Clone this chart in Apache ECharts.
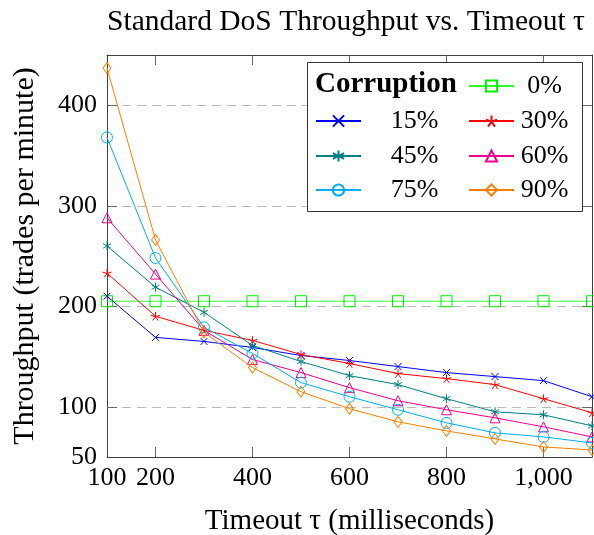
<!DOCTYPE html>
<html><head><meta charset="utf-8">
<script src="https://cdn.jsdelivr.net/npm/echarts@6/dist/echarts.min.js"></script>
<style>html,body{margin:0;padding:0;background:#fff}#c{width:594px;height:535px}</style>
</head><body><div id="c"></div>
<script>
const timeouts = [100, 200, 300, 400, 500, 600, 700, 800, 900, 1000, 1100];
const corruption0  = [205, 205, 205, 205, 205, 205, 205, 205, 205, 205, 205];
const corruption15 = [210, 169, 165, 159, 151, 146, 140, 134, 130, 126, 110];
const corruption30 = [233, 190, 176, 166, 152, 143, 133, 128, 122, 108, 94];
const corruption45 = [260, 219, 194, 161, 145, 131, 122, 108, 95, 92, 81];
const corruption60 = [288, 232, 176, 147, 134, 119, 106, 97, 89, 80, 70];
const corruption75 = [368, 248, 179, 153, 124, 110, 97, 84, 74, 70, 64];
const corruption90 = [437, 266, 174, 139, 115, 98, 85, 76, 68, 60, 57];
const seriesNames = ['0%', '15%', '30%', '45%', '60%', '75%', '90%'];
const xLabelValues = [100, 200, 400, 600, 800, 1000];
const xTickValues = [200, 400, 600, 800, 1000];
const yLabelValues = [50, 100, 200, 300, 400];
const yTickValues = [100, 200, 300, 400];

const FONT = '"Liberation Serif", "Times New Roman", serif';
const AX = '#404040';

const SYM = {
  cross: 'path://M0,0L10,10M10,0L0,10',
  star: 'path://M5,5L5,0M5,5L9.755,3.455M5,5L7.939,9.045M5,5L2.061,9.045M5,5L0.245,3.455',
  aster: 'path://M5,0L5,10M0.67,2.5L9.33,7.5M0.67,7.5L9.33,2.5'
};
const styles = [
  {color: '#00ee00', line: '#33ff33', symbol: 'rect', size: 11},
  {color: '#0000ff', line: '#0000ff', symbol: SYM.cross, size: 7},
  {color: '#ff0000', line: '#ff0000', symbol: SYM.star, size: 9},
  {color: '#008080', line: '#008080', symbol: SYM.aster, size: 9},
  {color: '#ec008c', line: '#ec008c', symbol: 'triangle', size: 10},
  {color: '#00aeef', line: '#00aeef', symbol: 'circle', size: 11},
  {color: '#ff8000', line: '#ff8000', symbol: 'diamond', size: [8, 11]}
];
const dataSets = [corruption0, corruption15, corruption30, corruption45, corruption60, corruption75, corruption90];

const series = dataSets.map((vals, i) => ({
  name: seriesNames[i],
  type: 'line',
  data: timeouts.map((t, j) => [t, vals[j]]),
  symbol: styles[i].symbol,
  symbolSize: styles[i].size,
  symbolKeepAspect: true,
  showAllSymbol: true,
  lineStyle: {color: styles[i].line, width: 1},
  itemStyle: {color: 'transparent', borderColor: styles[i].color, borderWidth: 1},
  emphasis: {disabled: true},
  z: 2 + i
}));

const rowC = [85, 120, 155, 189];
const legendCells = [
  [0, 468, rowC[0]], [1, 315, rowC[1]], [2, 468, rowC[1]],
  [3, 315, rowC[2]], [4, 468, rowC[2]], [5, 315, rowC[3]], [6, 468, rowC[3]]
];
const legends = legendCells.map(([si, lx, cy]) => {
  const col1 = lx < 400;
  return {
    data: [seriesNames[si]],
    left: lx, top: cy - 12,
    itemWidth: 45, itemHeight: 14, padding: 0, itemGap: 0,
    selectedMode: false, z: 30,
    formatter: n => '{t|' + n + '}',
    textStyle: {
      fontFamily: FONT, fontSize: 26, color: '#000', padding: [0, 0, 0, 0],
      rich: {t: {fontFamily: FONT, fontSize: 26, color: '#000', width: col1 ? 97 : 51, align: 'center'}}
    }
  };
});

const chart = echarts.init(document.getElementById('c'), null, {renderer: 'canvas'});
chart.setOption({
  animation: false,
  backgroundColor: '#fff',
  title: {
    text: 'Standard DoS Throughput vs. Timeout τ',
    left: 341, top: 2, textAlign: 'center',
    textStyle: {fontFamily: FONT, fontSize: 29.5, fontWeight: 'normal', color: '#000'}
  },
  grid: {left: 107, right: 2, top: 55, bottom: 78, containLabel: false, outerBoundsMode: 'none'},
  xAxis: [{
    type: 'value', min: 100, max: 1100, position: 'bottom',
    name: 'Timeout τ (milliseconds)', nameLocation: 'middle', nameGap: 50,
    nameTextStyle: {fontFamily: FONT, fontSize: 29, color: '#000'},
    axisLine: {show: true, onZero: false, lineStyle: {color: AX, width: 1}},
    axisTick: {show: true, inside: true, length: 10, customValues: xTickValues, lineStyle: {color: '#666'}},
    axisLabel: {customValues: xLabelValues, margin: 8, fontFamily: FONT, fontSize: 26, color: '#000',
      formatter: v => Number(v).toLocaleString('en-US')},
    splitLine: {show: false}
  }, {
    type: 'value', min: 100, max: 1100, position: 'top',
    axisLine: {show: true, onZero: false, lineStyle: {color: AX, width: 1}},
    axisTick: {show: true, inside: true, length: 10, customValues: xTickValues, lineStyle: {color: '#666'}},
    axisLabel: {show: false},
    splitLine: {show: false}
  }],
  yAxis: [{
    type: 'value', min: 50, max: 450, position: 'left',
    name: 'Throughput (trades per minute)', nameLocation: 'middle', nameGap: 67,
    nameTextStyle: {fontFamily: FONT, fontSize: 30, color: '#000'},
    axisLine: {show: true, onZero: false, lineStyle: {color: AX, width: 1}},
    axisTick: {show: true, inside: true, length: 10, customValues: yTickValues, lineStyle: {color: '#666'}},
    axisLabel: {customValues: yLabelValues, margin: 10, fontFamily: FONT, fontSize: 26, color: '#000'},
    splitLine: {show: true, lineStyle: {color: '#bbbbbb', width: 1, type: [9, 6]}}
  }, {
    type: 'value', min: 50, max: 450, position: 'right',
    axisLine: {show: true, onZero: false, lineStyle: {color: AX, width: 1}},
    axisTick: {show: true, inside: true, length: 10, customValues: yTickValues, lineStyle: {color: '#666'}},
    axisLabel: {show: false},
    splitLine: {show: false}
  }],
  legend: legends,
  graphic: [
    {type: 'rect', shape: {x: 307.5, y: 62.5, width: 275, height: 149},
      style: {fill: '#fff', stroke: '#333', lineWidth: 1}, z: 20},
    {type: 'text', x: 315, y: 85, z: 25,
      style: {text: 'Corruption', fontFamily: FONT, fontSize: 29, fontWeight: 'bold', fill: '#000', verticalAlign: 'middle'}}
  ],
  series: series
});
</script></body></html>
